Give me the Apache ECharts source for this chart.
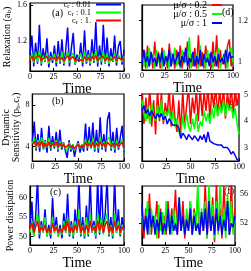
<!DOCTYPE html>
<html><head><meta charset="utf-8">
<script src="https://cdn.jsdelivr.net/npm/echarts@6/dist/echarts.min.js"></script>
<style>html,body{margin:0;padding:0;background:#fff}#c{width:251px;height:271px}</style>
</head><body><div id="c"></div>
<script>
const time = [0,2,4,6,8,10,12,14,16,18,20,22,24,26,28,30,32,34,36,38,40,42,44,46,48,50,52,54,56,58,60,62,64,66,68,70,72,74,76,78,80,82,84,86,88,90,92,94,96,98,100];
const xTicks = [0,25,50,75,100];
const crNames = ['c_r : 0.01','c_r : 0.1','c_r : 1.'];
const muNames = ['μ/σ : 0.2','μ/σ : 0.5','μ/σ : 1'];

// (a) Relaxation, c_r series
const aBlue = [1.05,1.26,0.92,1.18,0.95,1.38,0.93,1.12,0.97,1.23, 0.91,1.08,0.96,1.15,0.92,1.2,0.95,1.22,0.93,1.1, 1.35,0.92,1.12,1.29,0.94,1.05,0.97,1.18,0.92,1.32, 0.95,1.1,0.93,1.22,0.96,1.41,0.92,1.15,0.94,1.38, 0.95,1.24,0.92,1.12,0.97,1.26,0.93,1.14,1.2,0.94, 1.1];
const aGreen = [1.0,1.06,0.96,1.08,0.97,1.1,0.95,1.04,0.98,1.07, 0.95,1.03,0.99,1.06,0.96,1.05,0.97,1.08,0.95,1.02, 1.09,0.96,1.04,1.07,0.95,1.0,0.98,1.06,0.96,1.09, 0.97,1.05,0.95,1.07,0.98,1.1,0.96,1.04,0.97,1.09, 0.96,1.06,0.95,1.03,0.98,1.07,0.96,1.05,1.06,0.97, 1.03];
const aRed = [0.99,1.03,0.98,1.02,1.0,1.04,0.98,1.01,0.99,1.03, 0.98,1.01,1.0,1.02,0.98,1.03,0.99,1.02,0.98,1.01, 1.04,0.99,1.01,1.03,0.98,1.0,1.0,1.02,0.98,1.03, 0.99,1.02,0.98,1.03,1.0,1.04,0.98,1.01,0.99,1.03, 0.98,1.02,0.99,1.01,1.0,1.03,0.98,1.02,1.02,0.99, 1.01];
const aTicks = [1.2,1.6];

// (d) Relaxation, mu/sigma series
const dRed = [1.0,1.06,0.97,1.08,0.98,1.04,0.97,1.1,0.98,1.05, 0.97,1.07,1.0,1.03,0.97,1.09,0.98,1.04,0.97,1.06, 0.99,1.08,0.97,1.05,1.0,1.1,0.97,1.04,0.98,1.07, 0.97,1.13,0.98,1.05,0.97,1.08,1.0,1.04,0.97,1.1, 0.98,1.13,0.97,1.06,0.99,1.04,0.97,1.08,1.11,0.98, 1.03];
const dGreen = [1.02,0.98,1.05,0.97,1.07,0.99,1.04,0.97,1.06,1.0, 1.04,0.97,1.06,0.99,1.03,0.97,1.05,1.0,1.07,0.98, 1.03,0.97,1.06,0.99,1.04,1.0,1.12,0.97,1.05,0.99, 1.04,0.97,1.08,0.99,1.03,0.97,1.06,1.0,1.04,0.97, 1.05,0.99,1.07,0.97,1.03,1.0,1.06,0.97,1.04,1.07, 1.0];
const dBlue = [0.99,1.06,1.0,1.03,0.98,1.05,1.0,1.02,0.98,1.04, 1.0,1.05,0.98,1.03,1.0,1.06,0.98,1.04,0.99,1.02, 1.05,0.98,1.03,1.0,1.07,0.98,1.02,1.0,1.05,0.98, 1.03,0.99,1.06,0.98,1.04,1.0,1.02,0.98,1.05,1.0, 1.03,0.98,1.04,1.0,1.02,0.99,1.06,1.0,1.05,1.02, 1.03];
const dTicks = [1,1.2];

// (b) Dynamic sensitivity, c_r series
const bBlue = [4.5,6.4,3.6,5.2,3.5,5.8,3.7,4.6,3.4,6.0, 3.6,5.0,3.8,5.4,3.5,5.6,3.7,4.4,3.6,2.9, 4.6,3.5,4.2,3.0,4.0,4.5,3.4,4.2,3.5,6.2, 3.6,5.9,3.8,6.3,3.5,5.6,3.4,6.8,3.7,5.2, 3.5,6.6,7.3,3.6,5.4,3.4,5.8,3.7,4.9,6.0, 3.5];
const bGreen = [4.3,4.8,3.8,4.6,3.9,4.9,3.7,4.5,3.9,4.8, 3.8,4.4,4.0,4.6,3.7,4.5,3.9,4.3,3.8,3.6, 4.4,3.7,4.2,3.6,4.1,4.3,3.8,4.2,3.8,4.7, 3.9,4.6,3.8,4.8,3.7,4.5,3.8,4.9,3.9,4.5, 3.8,4.7,4.9,3.8,4.5,3.7,4.6,3.9,4.3,4.7, 3.6];
const bRed = [4.2,4.5,4.0,4.4,4.0,4.5,3.9,4.3,4.0,4.4, 3.9,4.3,4.1,4.4,3.9,4.3,4.0,4.2,3.9,3.8, 4.2,3.9,4.1,3.8,4.0,4.2,3.9,4.1,3.9,4.4, 4.0,4.3,3.9,4.4,3.9,4.3,4.0,4.5,4.0,4.3, 3.9,4.4,4.5,4.0,4.3,3.9,4.3,4.0,4.2,4.4, 3.8];
const bTicks = [4,8];

// (e) Dynamic sensitivity, mu/sigma series
const eRed = [5.2,3.9,4.9,4.1,5.3,3.8,4.8,3.5,5.2,4.0, 5.1,3.9,4.7,4.2,5.3,3.8,5.0,4.1,3.6,4.8, 3.5,5.2,3.8,4.6,5.3,3.9,4.9,4.3,5.2,4.0, 5.3,4.2,5.1,4.4,5.3,4.1,5.2,4.5,5.3,4.2, 5.2,4.4,5.3,4.1,5.1,4.5,5.3,4.3,5.2,4.6, 5.1];
const eGreen = [4.8,4.3,4.0,4.6,3.9,4.7,4.2,4.0,4.6,4.1, 4.8,4.0,4.4,4.2,4.5,3.9,4.4,3.8,4.1,3.6, 3.4,4.2,3.7,4.3,3.8,3.6,4.1,3.7,4.3,3.6, 4.0,3.8,4.4,4.0,4.3,3.9,4.5,4.1,4.7,4.2, 4.6,4.3,4.8,4.2,4.7,4.4,4.6,4.1,4.5,3.9, 3.5];
const eBlue = [4.4,4.6,4.3,4.45,4.2,4.4,4.25,4.1,4.3,4.15, 4.3,4.05,4.2,3.9,4.1,4.15,3.85,3.9,3.85,3.75, 3.35,3.55,3.45,3.3,3.5,3.4,3.3,3.45,3.35,3.25, 3.45,3.3,3.5,3.2,3.6,3.25,3.3,3.15,3.2,3.1, 3.05,3.1,3.0,2.95,3.0,2.9,2.75,2.85,2.7,2.55, 2.5];
const eTicks = [3,4,5];

// (c) Power dissipation, c_r series
const cBlue = [52,59,50,55,65,49.5,54,51,57,50, 53,49.5,60,51,55,50,53,49.5,56,51, 61,50,54,49.5,57,51,65,50,55,49.5, 58,50,65,51,54,49.5,65,50.5,65,51, 56,65,50,55,49.5,65,51,57,50,55, 52];
const cGreen = [51,54,50,53,56,50.5,53,51,55,50, 52,50.5,55,51,53,50,52,50.5,54,51, 55,50.5,53,50,54,51,57,50.5,53,50, 55,50.5,56,51,53,50,56,51,55,50.5, 54,56,50.5,53,50,56,51,54,50.5,53, 51];
const cRed = [52,53.5,51,52.5,54,51,52.5,51.5,53,51, 52,51,53.5,51.5,52.5,51,52,51,53,51.5, 54,51,52.5,51,53,51.5,54.5,51,52.5,51, 53,51,54,51.5,52.5,51,54,51.5,53.5,51, 53,54,51,52.5,51,54,51.5,53,51,52.5, 51.5];
const cTicks = [50,55,60];

// (f) Power dissipation, mu/sigma series
const fRed = [52,50,54,51,56,50.5,53,52,55,50, 54,51,53,50.5,55,51,54,52,56.5,50.5, 54,51,55,50,53,51.5,55,50.5,54,52, 56,50.5,53,51,57.5,50,54,51,55.5,49.5, 57.5,51,54,50,57,52,55,50.5,57.5,51, 54];
const fGreen = [53,51,52.5,55,50.5,54,51.5,53,50,54.5, 51,53.5,50.5,55,51.5,53,50.5,54,51,53, 55.5,51,53,50.5,54,51,55,50.5,53.5,51, 57.5,50.5,54,51.5,55,50,57.5,51,54.5,50, 55,50.5,57.5,51,54,50,56,51.5,55,50.5, 53];
const fBlue = [54.5,51,53,50.5,54,51.5,53,50.5,52.5,51, 53.5,50.5,52,51,54,50.5,53,51,52,50.5, 55.5,51,53,50.5,52.5,51,54,50.5,53,51, 52,50.5,53.5,51,54,50.5,55,51,53,50.5, 54,51,53,50.5,52.5,51,55,50.5,52,51.5, 53];
const fTicks = [52,56];

const FF = 'Liberation Serif';
const BLUE = '#0000ff', GREEN = '#00ff00', RED = '#ff0000';

const grids = [
  {left:30, top:3, width:94, height:68},
  {left:142, top:5, width:92, height:65},
  {left:32, top:94, width:92, height:67},
  {left:142, top:94, width:98, height:67},
  {left:30, top:186, width:94, height:66},
  {left:142, top:186, width:95, height:65}
].map(g => Object.assign({show:true, borderColor:'#000', borderWidth:1.2, backgroundColor:'transparent'}, g));

const rich = {s:{fontSize:6.5, fontFamily:FF, color:'#000', padding:[4,0,0,0]}};

const xAxes = grids.map((g,i) => ({
  type:'value', gridIndex:i, min:0, max:100, interval:25,
  axisLine:{show:true, lineStyle:{color:'#000', width:1.2}},
  axisTick:{inside:true, length:3, lineStyle:{color:'#000'}},
  axisLabel:{fontSize:8, color:'#000', fontFamily:FF, margin:2},
  splitLine:{show:false},
  name:'Time', nameLocation:'middle', nameGap:5,
  nameTextStyle:{fontSize:14, fontFamily:FF, color:'#000', verticalAlign:'top'}
}));

function yAx(i, min, max, ticks, pos, name, gap) {
  return {
    type:'value', gridIndex:i, min:min, max:max, position:pos,
    axisLine:{show:true, lineStyle:{color:'#000', width:1.2}},
    axisTick:{inside:true, length:3, lineStyle:{color:'#000'}, customValues:ticks},
    axisLabel:{fontSize:8, color:'#000', fontFamily:FF, margin:pos==='left'?3:5, customValues:ticks},
    splitLine:{show:false},
    name:name || '', nameLocation:'middle', nameGap:gap || 0, nameRotate:90,
    nameTextStyle:{fontSize:10, fontFamily:FF, color:'#000', lineHeight:10, rich:{s:{fontSize:7, fontFamily:FF, color:'#000', padding:[4,0,0,0]}}}
  };
}
const yAxes = [
  yAx(0, 0.87, 1.62, aTicks, 'left', 'Relaxation (a{s|b})', 14),
  yAx(1, 0.963, 1.275, dTicks, 'right'),
  yAx(2, 2.6, 9.05, bTicks, 'left', 'Dynamic\nSensitivity (p{s|b}.c{s|r})', 10),
  yAx(3, 2.49, 5.04, eTicks, 'right'),
  yAx(4, 47.8, 63, cTicks, 'left', 'Power dissipation', 14),
  yAx(5, 49.1, 57, fTicks, 'right')
];

function ser(i, name, vals, color) {
  return {type:'line', name:name, xAxisIndex:i, yAxisIndex:i,
    data: time.map((t,k) => [t, vals[k]]),
    symbol:'none', clip:true, animation:false,
    lineStyle:{width:1.5, color:color}, itemStyle:{color:color}};
}
const series = [
  ser(0, crNames[0], aBlue, BLUE), ser(0, crNames[1], aGreen, GREEN), ser(0, crNames[2], aRed, RED),
  ser(1, muNames[0], dRed, RED), ser(1, muNames[1], dGreen, GREEN), ser(1, muNames[2], dBlue, BLUE),
  ser(2, crNames[0], bBlue, BLUE), ser(2, crNames[1], bGreen, GREEN), ser(2, crNames[2], bRed, RED),
  ser(3, muNames[0], eRed, RED), ser(3, muNames[1], eGreen, GREEN), ser(3, muNames[2], eBlue, BLUE),
  ser(4, crNames[0], cBlue, BLUE), ser(4, crNames[1], cGreen, GREEN), ser(4, crNames[2], cRed, RED),
  ser(5, muNames[0], fRed, RED), ser(5, muNames[1], fGreen, GREEN), ser(5, muNames[2], fBlue, BLUE)
];

const legends = [
  {data:crNames, right:130, top:0, itemWidth:25, itemGap:-2, textStyle:{fontSize:8.5, fontFamily:FF, color:'#000', rich:rich}},
  {data:muNames, right:29, top:0, itemWidth:10, itemGap:-1, textStyle:{fontSize:10, fontFamily:FF, color:'#000', rich:rich}}
].map(l => Object.assign({orient:'vertical', align:'right', icon:'rect', itemHeight:2, padding:0, selectedMode:false,
  formatter: n => n.replace('c_r', 'c{s|r}')}, l));

function lab(txt, x, y) {
  return {type:'text', left:x, top:y, z:-1, style:{text:txt, fontSize:10, fontFamily:FF, fill:'#000'}};
}
const chart = echarts.init(document.getElementById('c'), null, {renderer:'canvas'});
chart.setOption({
  animation:false, backgroundColor:'#fff',
  grid:grids, xAxis:xAxes, yAxis:yAxes, series:series, legend:legends,
  graphic:[lab('(a)',52,8), lab('(d)',222,7), lab('(b)',52,96), lab('(e)',226,97), lab('(c)',50,187), lab('(f)',224,186)]
});
</script></body></html>
